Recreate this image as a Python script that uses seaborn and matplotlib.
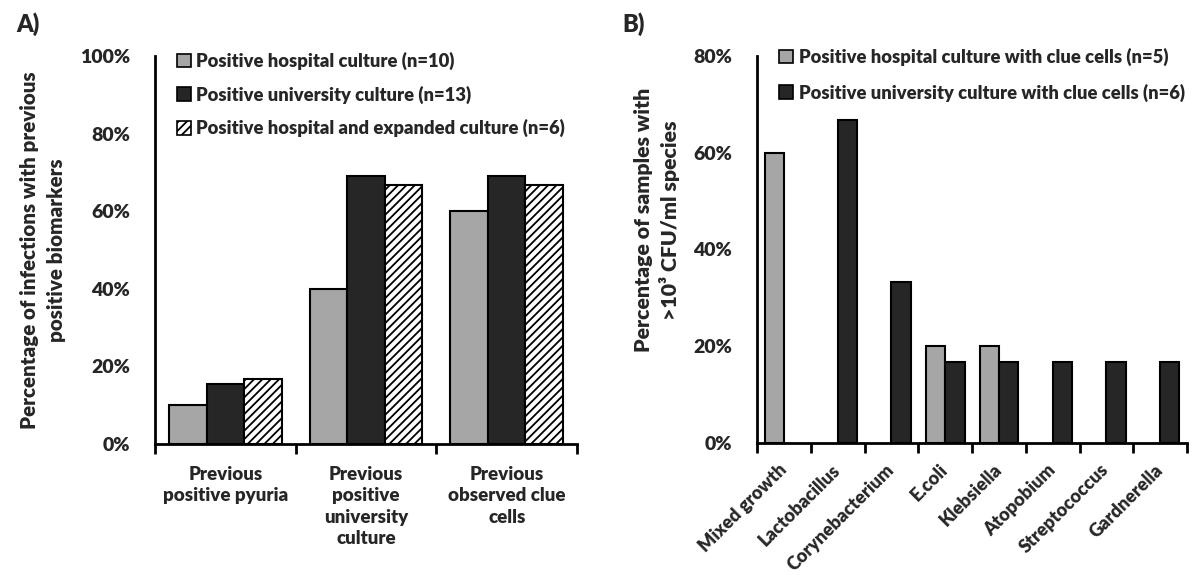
import numpy as np
import pandas as pd
import matplotlib
matplotlib.use("Agg")
import matplotlib.pyplot as plt
import matplotlib.transforms as mtransforms
import seaborn as sns
from matplotlib.patches import Patch
from matplotlib.ticker import FixedLocator, PercentFormatter

# ---------------- data ----------------
a_categories = ["Previous\npositive pyuria",
                "Previous\npositive\nuniversity\nculture",
                "Previous\nobserved clue\ncells"]
a_series = ["Positive hospital culture (n=10)",
            "Positive university culture (n=13)",
            "Positive hospital and expanded culture (n=6)"]
a_hospital = [0.10, 0.40, 0.60]
a_university = [0.154, 0.692, 0.692]
a_expanded = [0.167, 0.667, 0.667]

b_categories = ["Mixed growth", "Lactobacillus", "Corynebacterium", "E.coli",
                "Klebsiella", "Atopobium", "Streptococcus", "Gardnerella"]
b_series = ["Positive hospital culture with clue cells (n=5)",
            "Positive university culture with clue cells (n=6)"]
b_hospital = [0.60, 0.0, 0.0, 0.20, 0.20, 0.0, 0.0, 0.0]
b_university = [0.0, 0.667, 0.333, 0.167, 0.167, 0.167, 0.167, 0.167]

a_yticks = [0, 0.2, 0.4, 0.6, 0.8, 1.0]
b_yticks = [0, 0.2, 0.4, 0.6, 0.8]

# ---------------- style ----------------
sns.set_theme(style="white")
plt.rcParams['font.family'] = ['Lato', 'DejaVu Sans']
W = 'heavy'
plt.rcParams['font.weight'] = W
plt.rcParams['hatch.linewidth'] = 1.3
GRAY = "#a6a6a6"
DARK = "#262626"

fig = plt.figure(figsize=(11.99, 5.75), dpi=100)
axA = fig.add_axes([0.1293, 0.2278, 0.352, 0.6748])
axB = fig.add_axes([0.6314, 0.2296, 0.3586, 0.6730])

dfA = pd.DataFrame({
    "cat": a_categories * 3,
    "series": [a_series[0]] * 3 + [a_series[1]] * 3 + [a_series[2]] * 3,
    "val": a_hospital + a_university + a_expanded,
})
dfB = pd.DataFrame({
    "cat": b_categories * 2,
    "series": [b_series[0]] * 8 + [b_series[1]] * 8,
    "val": b_hospital + b_university,
})

sns.barplot(data=dfA, x="cat", y="val", hue="series", order=a_categories,
            hue_order=a_series, palette=[GRAY, DARK, "white"], width=0.8,
            gap=0, edgecolor="black", linewidth=1.5, saturation=1,
            legend=False, ax=axA)
for bar in axA.containers[2]:
    bar.set_hatch("////")

sns.barplot(data=dfB, x="cat", y="val", hue="series", order=b_categories,
            hue_order=b_series, palette=[GRAY, DARK], width=0.72,
            gap=0, edgecolor="black", linewidth=1.5, saturation=1,
            legend=False, ax=axB)
for ax in (axA, axB):
    for cont in ax.containers:
        for bar in cont:
            if bar.get_height() == 0:
                bar.set_visible(False)

def style_axis(ax, ncat, yticks, ymax):
    ax.set_ylim(0, ymax)
    ax.set_xlim(-0.5, ncat - 0.5)
    for s in ("top", "right"):
        ax.spines[s].set_visible(False)
    for s in ("left", "bottom"):
        ax.spines[s].set_color("black")
        ax.spines[s].set_linewidth(2)
    ax.set_yticks(yticks)
    ax.yaxis.set_major_formatter(PercentFormatter(1.0, decimals=0))
    ax.tick_params(axis="y", which="major", direction="out", length=6,
                   width=2, color="black", labelsize=14, pad=12)
    ax.tick_params(axis="x", which="major", length=0, pad=16)
    ax.xaxis.set_minor_locator(FixedLocator(np.arange(-0.5, ncat, 1.0)))
    ax.tick_params(axis="x", which="minor", direction="out", length=7,
                   width=2, color="black", bottom=True)
    ax.set_xlabel("")
    for lab in ax.get_yticklabels():
        lab.set_fontweight(W)

style_axis(axA, 3, a_yticks, 1.0)
style_axis(axB, 8, b_yticks, 0.8)

axA.set_xticks(range(3))
axA.set_xticklabels(a_categories, fontsize=13.5, fontweight=W,
                    linespacing=1.3, va="top", ha="center")
axB.set_xticks(range(8))
axB.set_xticklabels(b_categories, fontsize=13.1, fontweight=W,
                    rotation=45, ha="right", va="top", rotation_mode="anchor")
axB.tick_params(axis="x", which="major", pad=13)
shift = mtransforms.ScaledTranslation(-6 / 100, 0, fig.dpi_scale_trans)
for lab in axB.get_xticklabels():
    lab.set_transform(lab.get_transform() + shift)

axA.set_ylabel("Percentage of infections with previous\npositive biomarkers",
               fontsize=14.8, fontweight=W, linespacing=1.5)
axA.yaxis.set_label_coords(-0.21, 0.5)
axB.set_ylabel("Percentage of samples with\n>10³ CFU/ml species",
               fontsize=15.3, fontweight=W, linespacing=1.3)
axB.yaxis.set_label_coords(-0.18, 0.576)

# legends
hA = [Patch(facecolor=GRAY, edgecolor="black", linewidth=1.2),
      Patch(facecolor=DARK, edgecolor="black", linewidth=1.2),
      Patch(facecolor="white", edgecolor="black", linewidth=1.2, hatch="////")]
legA = axA.legend(hA, a_series, loc="upper left", bbox_to_anchor=(0.035, 1.03),
                  frameon=False, fontsize=13.2, handlelength=0.75,
                  handleheight=0.75, handletextpad=0.3, labelspacing=0.85,
                  borderaxespad=0)
for t in legA.get_texts():
    t.set_fontweight(W)

hB = [Patch(facecolor=GRAY, edgecolor="black", linewidth=1.2),
      Patch(facecolor=DARK, edgecolor="black", linewidth=1.2)]
legB = axB.legend(hB, b_series, loc="upper left", bbox_to_anchor=(0.035, 1.04),
                  frameon=False, fontsize=13.2, handlelength=0.75,
                  handleheight=0.75, handletextpad=0.3, labelspacing=0.95,
                  borderaxespad=0)
for t in legB.get_texts():
    t.set_fontweight(W)

fig.text(0.014, 0.958, "A)", fontsize=17, fontweight=W, va="center")
fig.text(0.519, 0.958, "B)", fontsize=17, fontweight=W, va="center")

fig.savefig("out.png", dpi=100)
